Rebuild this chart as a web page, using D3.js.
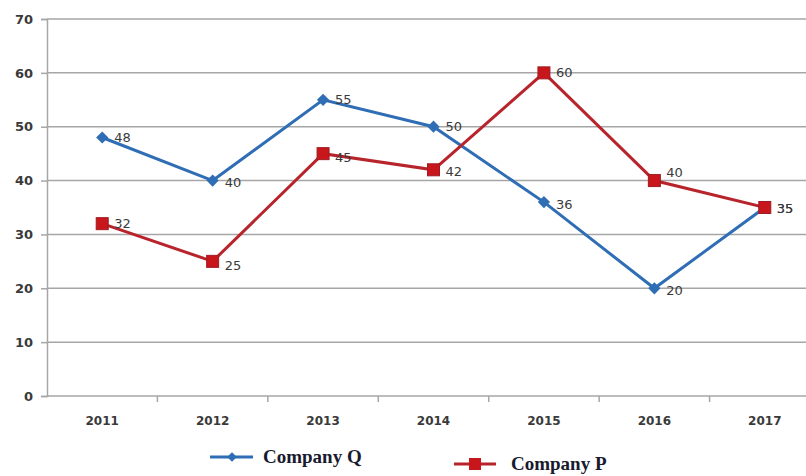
<!DOCTYPE html>
<html>
<head>
<meta charset="utf-8">
<script src="https://cdn.jsdelivr.net/npm/d3@7"></script>
<style>
  body { margin: 0; background: #fff; }
  svg { display: block; }
</style>
</head>
<body>
<div id="chart"></div>
<script>
var years = ["2011", "2012", "2013", "2014", "2015", "2016", "2017"];
var companyQ = [48, 40, 55, 50, 36, 20, 35];
var companyP = [32, 25, 45, 42, 60, 40, 35];
var yTicks = [0, 10, 20, 30, 40, 50, 60, 70];

function init() {
    var w = 806, h = 476;
    var left = 47, top = 19, bottom = 396;
    var plotRight = 820;

    var svg = d3.select("#chart").append("svg")
        .attr("width", w)
        .attr("height", h);

    var xScale = d3.scaleBand()
        .domain(years)
        .range([left, plotRight]);

    var yScale = d3.scaleLinear()
        .domain([0, 70])
        .range([bottom, top]);

    // gridlines
    svg.append("g")
        .selectAll("line")
        .data(yTicks)
        .enter()
        .append("line")
        .attr("x1", left)
        .attr("x2", w)
        .attr("y1", function(d) { return yScale(d); })
        .attr("y2", function(d) { return yScale(d); })
        .attr("stroke", "#a6a6a6")
        .attr("stroke-width", 1.5);

    var yAxis = d3.axisLeft(yScale)
        .tickValues(yTicks)
        .tickSize(6)
        .tickPadding(8);

    var gy = svg.append("g")
        .attr("transform", "translate(" + left + ",0)")
        .call(yAxis);
    gy.select(".domain").attr("stroke", "#a6a6a6").attr("stroke-width", 1.5);
    gy.selectAll(".tick line").attr("stroke", "#a6a6a6").attr("stroke-width", 1.5);
    gy.selectAll("text")
        .attr("font-family", "DejaVu Sans, Verdana, sans-serif")
        .attr("font-size", "13px")
        .attr("font-weight", "bold")
        .attr("fill", "#3a3a3a");

    var xAxis = d3.axisBottom(xScale)
        .tickSize(0)
        .tickPadding(20);

    var gx = svg.append("g")
        .attr("transform", "translate(0," + bottom + ")")
        .call(xAxis);
    gx.select(".domain").remove();
    gx.selectAll("text")
        .attr("font-family", "DejaVu Sans, Verdana, sans-serif")
        .attr("font-size", "12px")
        .attr("font-weight", "bold")
        .attr("fill", "#3a3a3a");

    // category separator ticks
    svg.append("g")
        .selectAll("line")
        .data(years.slice(1))
        .enter()
        .append("line")
        .attr("x1", function(d) { return xScale(d); })
        .attr("x2", function(d) { return xScale(d); })
        .attr("y1", bottom)
        .attr("y2", bottom + 6)
        .attr("stroke", "#a6a6a6")
        .attr("stroke-width", 1.5);

    var cx = function(d, i) { return xScale(years[i]) + xScale.bandwidth() / 2; };
    var line = d3.line()
        .x(cx)
        .y(function(d) { return yScale(d); });

    var blue = "#2f6db5", red = "#b8242b";

    svg.append("path")
        .datum(companyQ)
        .attr("d", line)
        .attr("fill", "none")
        .attr("stroke", blue)
        .attr("stroke-width", 3);

    svg.append("path")
        .datum(companyP)
        .attr("d", line)
        .attr("fill", "none")
        .attr("stroke", red)
        .attr("stroke-width", 3);

    svg.append("g")
        .selectAll("path")
        .data(companyQ)
        .enter()
        .append("path")
        .attr("d", d3.symbol().type(d3.symbolDiamond2).size(95))
        .attr("transform", function(d, i) { return "translate(" + cx(d, i) + "," + yScale(d) + ")"; })
        .attr("fill", blue);

    svg.append("g")
        .selectAll("rect")
        .data(companyP)
        .enter()
        .append("rect")
        .attr("x", function(d, i) { return cx(d, i) - 6; })
        .attr("y", function(d) { return yScale(d) - 6; })
        .attr("width", 12)
        .attr("height", 12)
        .attr("fill", "#c8161d")
        .attr("stroke", "#a01c22")
        .attr("stroke-width", 1);

    function labels(data, dy) {
        svg.append("g")
            .selectAll("text")
            .data(data)
            .enter()
            .append("text")
            .attr("x", function(d, i) { return cx(d, i) + 12; })
            .attr("y", function(d, i) { return yScale(d) + dy[i]; })
            .attr("dy", "0.35em")
            .attr("font-family", "DejaVu Sans, Verdana, sans-serif")
            .attr("font-size", "13px")
            .attr("fill", "#3a3a3a")
            .text(function(d) { return d; });
    }
    labels(companyQ, [0, 2, 0, 0, 2, 2, 1]);
    labels(companyP, [0, 4, 4, 2, 0, -8, 1]);

    // legend
    var legend = svg.append("g");
    legend.append("line")
        .attr("x1", 210).attr("x2", 253)
        .attr("y1", 457).attr("y2", 457)
        .attr("stroke", blue).attr("stroke-width", 3);
    legend.append("path")
        .attr("d", d3.symbol().type(d3.symbolDiamond2).size(60))
        .attr("transform", "translate(232,457)")
        .attr("fill", blue);
    legend.append("text")
        .attr("x", 263).attr("y", 463)
        .attr("font-family", "Liberation Serif, Times New Roman, serif")
        .attr("font-size", "19px")
        .attr("font-weight", "bold")
        .attr("fill", "#1a1a2e")
        .text("Company Q");

    legend.append("line")
        .attr("x1", 454).attr("x2", 496)
        .attr("y1", 464).attr("y2", 464)
        .attr("stroke", red).attr("stroke-width", 3);
    legend.append("rect")
        .attr("x", 469).attr("y", 458)
        .attr("width", 12).attr("height", 12)
        .attr("fill", "#c8161d");
    legend.append("text")
        .attr("x", 511).attr("y", 470)
        .attr("font-family", "Liberation Serif, Times New Roman, serif")
        .attr("font-size", "19px")
        .attr("font-weight", "bold")
        .attr("fill", "#1a1a2e")
        .text("Company P");
}

window.onload = init;
</script>
</body>
</html>
